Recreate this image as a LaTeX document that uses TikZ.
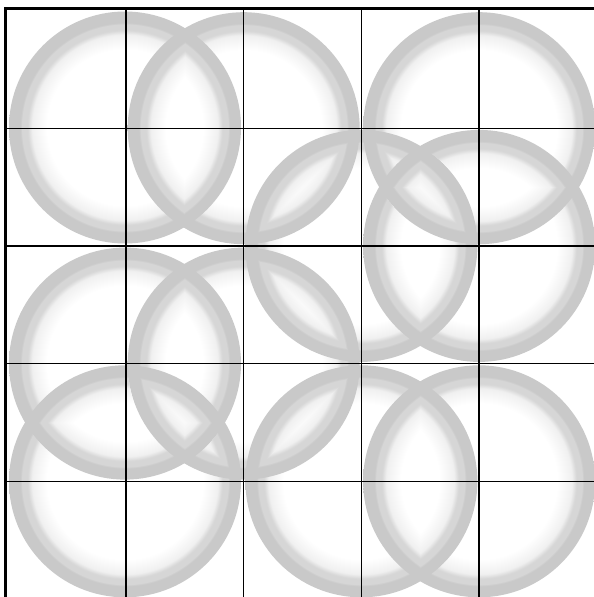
\documentclass[tikz,border=0pt]{standalone}
\usepackage{tikz}
\usetikzlibrary{calc}
\definecolor{ringouter}{RGB}{201, 201, 201}
\definecolor{ringinner}{RGB}{214, 214, 214}
\definecolor{ringfade}{RGB}{240, 240, 240}
\pgfdeclareradialshading{ringshade}{\pgfpointorigin}{%
  color(0bp)=(white); color(16.8bp)=(white); color(20bp)=(ringfade);
  color(21bp)=(ringinner); color(22.3bp)=(ringinner); color(22.5bp)=(ringouter);
  color(25bp)=(ringouter); color(50bp)=(ringouter)}

\begin{document}
\begin{tikzpicture}[
    x=1pt, y=-1pt,
    gridline/.style={draw=black, line width=1.3pt},
    frameline/.style={draw=black, line width=3pt},
    ring/.style={shading=ringshade}
]
\useasboundingbox (0,0) rectangle (594,597);
\fill[white] (0,0) rectangle (594,597);

% Circles
\begin{scope}[blend group=darken]
\foreach \cx/\cy in {125/127.5, 243.7/128.2, 479.1/128.2,
                     361.4/245.9, 479.1/245.9,
                     125/363.6, 243.7/363.6,
                     125/481.3, 361.4/481.3, 479.1/481.3}
  \shade[ring] (\cx,\cy) circle[radius=116];
\end{scope}

% Grid
\foreach \gx in {126, 243.7, 361.4, 479.1}
  \draw[gridline] (\gx,8) -- (\gx,597);
\foreach \gy in {128.2, 245.9, 363.6, 481.3}
  \draw[gridline] (5,\gy) -- (594,\gy);

% Frame
\draw[frameline] (5.5,597) -- (5.5,8.5) -- (594,8.5);

\end{tikzpicture}
\end{document}
